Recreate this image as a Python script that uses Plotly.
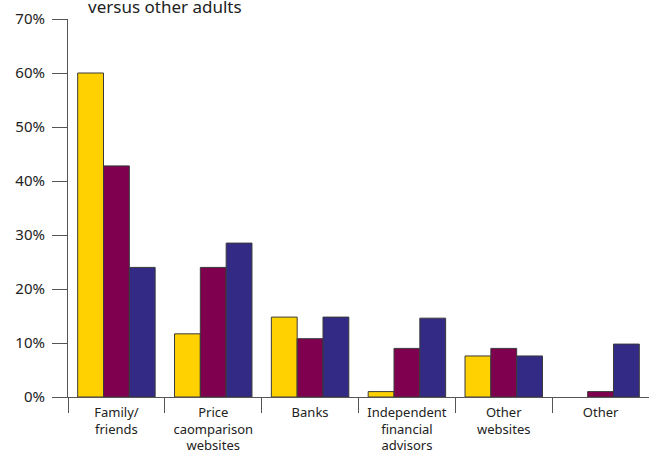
import plotly.graph_objects as go

categories = ["Family/<br>friends", "Price<br>caomparison<br>websites", "Banks",
              "Independent<br>financial<br>advisors", "Other<br>websites", "Other"]
series_a = [60, 11.7, 14.8, 1, 7.6, 0]
series_b = [42.8, 24, 10.8, 9, 9, 1]
series_c = [24, 28.5, 14.8, 14.6, 7.6, 9.8]
colors = ["#FFD100", "#800050", "#332A86"]
y_ticks = [0, 10, 20, 30, 40, 50, 60, 70]
y_labels = ["0%", "10%", "20%", "30%", "40%", "50%", "60%", "70%"]

fig = go.Figure()
for vals, col in zip([series_a, series_b, series_c], colors):
    widths = [1 if v > 0 else 0 for v in vals]
    fig.add_trace(go.Bar(x=categories, y=vals,
                         marker=dict(color=col, line=dict(color="#3a3a3a", width=widths)),
                         showlegend=False))

fig.update_layout(
    width=649, height=454,
    margin=dict(l=68, r=0, t=19, b=57, autoexpand=False),
    paper_bgcolor="white", plot_bgcolor="white",
    bargap=0.2, bargroupgap=0,
    font=dict(family="Noto Sans", size=14, color="#222"),
    xaxis=dict(showline=True, linecolor="#555", linewidth=1, ticks="outside", tickson="boundaries",
               ticklen=15, tickcolor="#555", tickfont=dict(size=13), showgrid=False,
               ticklabelstandoff=3, automargin=False),
    yaxis=dict(range=[0, 70], showline=True, linecolor="#555", linewidth=1, ticks="outside",
               ticklen=15, tickcolor="#555", tickvals=y_ticks, ticktext=y_labels,
               tickfont=dict(size=15), showgrid=False, zeroline=False, ticklabelstandoff=4,
               automargin=False),
    annotations=[dict(text="versus other adults", xref="paper", yref="paper", x=(86-68)/581, y=1,
                      xanchor="left", yanchor="bottom", yshift=-1, showarrow=False,
                      font=dict(size=17, color="#222"))],
)
fig.write_html("out.html")
